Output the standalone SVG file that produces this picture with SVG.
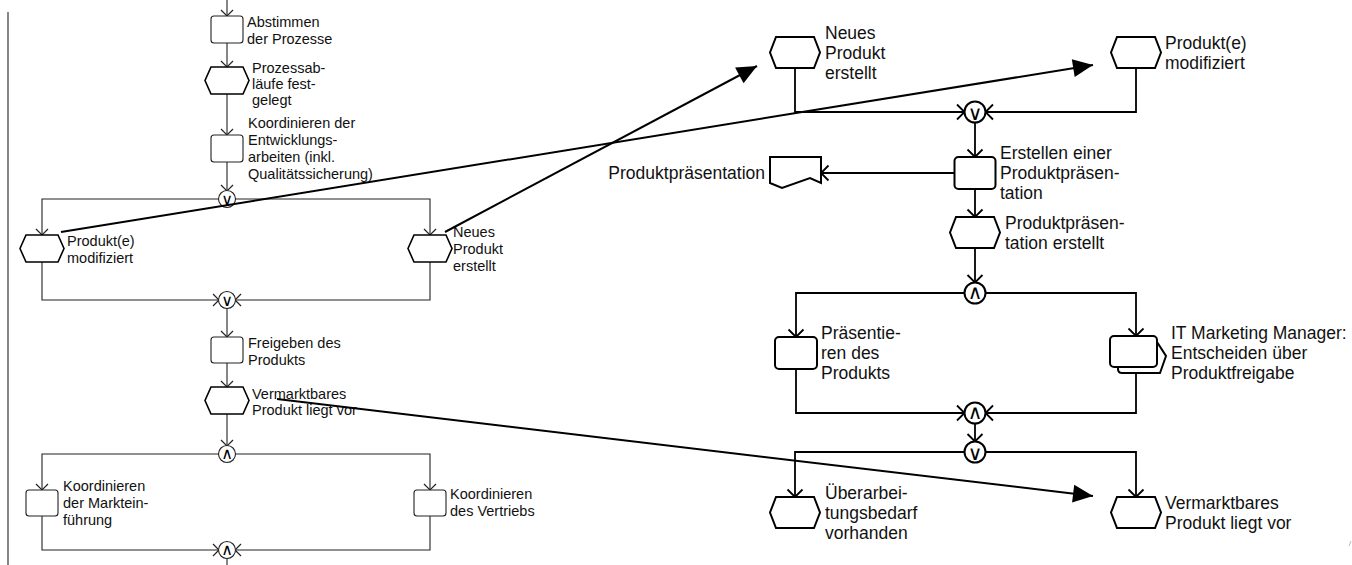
<svg xmlns="http://www.w3.org/2000/svg" width="1352" height="565" viewBox="0 0 1352 565">
<style>
.bg{fill:#fff}
.tl{font-family:"Liberation Sans",Arial,sans-serif;font-size:14.5px;fill:#111}
.tr{font-family:"Liberation Sans",Arial,sans-serif;font-size:17.5px;fill:#111}
.sym{font-family:"DejaVu Sans",sans-serif;fill:#000;text-anchor:middle;dominant-baseline:central}
.sl{font-size:16px}
.sr{font-size:20px}
.cl{fill:none;stroke:#222;stroke-width:1.1}
.cr{fill:none;stroke:#000;stroke-width:1.8}
.la{fill:none;stroke:#000;stroke-width:2}
.nl{fill:#fff;stroke:#222;stroke-width:1.1}
.hl{fill:#fff;stroke:#000;stroke-width:1.6}
.nr{fill:#fff;stroke:#000;stroke-width:2}
.ml{marker-end:url(#chevL)}
.mr{marker-end:url(#chevR)}
</style>
<defs>
<marker id="chevL" markerUnits="userSpaceOnUse" markerWidth="12" markerHeight="16" refX="8" refY="8" orient="auto" overflow="visible">
<path d="M2,2 L8,8 L2,14" fill="none" stroke="#222" stroke-width="1.2"/>
</marker>
<marker id="chevR" markerUnits="userSpaceOnUse" markerWidth="14" markerHeight="18" refX="9" refY="9" orient="auto" overflow="visible">
<path d="M1.5,1.5 L9,9 L1.5,16.5" fill="none" stroke="#000" stroke-width="1.8"/>
</marker>
<marker id="tri" markerUnits="userSpaceOnUse" markerWidth="21" markerHeight="18" refX="20" refY="9" orient="auto" overflow="visible">
<path d="M0,0 L20,9 L0,18 Z" fill="#000"/>
</marker>
</defs>
<rect class="bg" x="0" y="0" width="1352" height="565"/>

<g id="connectors">
<path class="cl" d="M8,12 V565"/>
<path class="cl ml" d="M227,0 V16"/>
<path class="cl ml" d="M227,43 V67"/>
<path class="cl ml" d="M227,94 V135"/>
<path class="cl ml" d="M227,162 V191"/>
<path class="cl ml" d="M219,199 H42 V235"/>
<path class="cl ml" d="M235,199 H430 V235"/>
<path class="cl ml" d="M42,262 V300 H219"/>
<path class="cl ml" d="M430,262 V300 H235"/>
<path class="cl ml" d="M227,308 V337"/>
<path class="cl ml" d="M227,363 V387"/>
<path class="cl ml" d="M227,414 V446"/>
<path class="cl ml" d="M219,454 H42 V490"/>
<path class="cl ml" d="M235,454 H430 V490"/>
<path class="cl ml" d="M42,516 V550 H219"/>
<path class="cl ml" d="M430,516 V550 H235"/>
<path class="cl" d="M227,558 V565"/>

<path class="cr mr" d="M795,68 V112 H964.5"/>
<path class="cr mr" d="M1136,68 V112 H985.5"/>
<path class="cr mr" d="M975,122.5 V157"/>
<path class="cr mr" d="M954.5,173 H821"/>
<path class="cr mr" d="M975,189 V217"/>
<path class="cr mr" d="M975,248 V282.5"/>
<path class="cr mr" d="M964.5,293 H796 V337"/>
<path class="cr mr" d="M985.5,293 H1136 V336"/>
<path class="cr mr" d="M796,369 V413 H964.5"/>
<path class="cr mr" d="M1136,373 V413 H985.5"/>
<path class="cr mr" d="M975,423.5 V441.5"/>
<path class="cr mr" d="M964.5,452 H795 V497"/>
<path class="cr mr" d="M985.5,452 H1136 V497"/>
<path d="M1349,546 L1351,541" stroke="#bbb" stroke-width="1" fill="none"/>
</g>

<g id="n-abstimmen">
<rect class="nl" x="211" y="16" width="32" height="27" rx="3"/>
<text class="tl" x="247" y="27">Abstimmen</text>
<text class="tl" x="247" y="44">der Prozesse</text>
</g>
<g id="n-prozessablaeufe">
<polygon class="hl" points="211,67 243,67 249,80.5 243,94 211,94 205,80.5"/>
<text class="tl" x="252" y="73">Prozessab-</text>
<text class="tl" x="252" y="89">läufe fest-</text>
<text class="tl" x="252" y="105">gelegt</text>
</g>
<g id="n-koordinieren-entw">
<rect class="nl" x="211" y="135" width="32" height="27" rx="3"/>
<text class="tl" x="248" y="128">Koordinieren der</text>
<text class="tl" x="248" y="145">Entwicklungs-</text>
<text class="tl" x="248" y="162">arbeiten (inkl.</text>
<text class="tl" x="248" y="179">Qualitätssicherung)</text>
</g>
<g id="op-or1">
<circle class="nl" cx="227" cy="199" r="8.5"/>
<text class="sym sl" x="227" y="199.5">∨</text>
</g>
<g id="n-modifiziert-l">
<polygon class="hl" points="26,235 58,235 64,248.5 58,262 26,262 20,248.5"/>
<text class="tl" x="67" y="246">Produkt(e)</text>
<text class="tl" x="67" y="263">modifiziert</text>
</g>
<g id="n-neues-l">
<polygon class="hl" points="414,235 446,235 452,248.5 446,262 414,262 408,248.5"/>
<text class="tl" x="453" y="237">Neues</text>
<text class="tl" x="453" y="254">Produkt</text>
<text class="tl" x="453" y="271">erstellt</text>
</g>
<g id="op-or2">
<circle class="nl" cx="227" cy="300" r="8.5"/>
<text class="sym sl" x="227" y="300.5">∨</text>
</g>
<g id="n-freigeben">
<rect class="nl" x="211" y="337" width="32" height="26" rx="3"/>
<text class="tl" x="248" y="348">Freigeben des</text>
<text class="tl" x="248" y="365">Produkts</text>
</g>
<g id="n-vermarktbar-l">
<polygon class="hl" points="211,387 243,387 249,400.5 243,414 211,414 205,400.5"/>
<text class="tl" x="252" y="399">Vermarktbares</text>
<text class="tl" x="252" y="415">Produkt liegt vor</text>
</g>
<g id="op-and1">
<circle class="nl" cx="227" cy="454" r="8.5"/>
<text class="sym sl" x="227" y="453">∧</text>
</g>
<g id="n-markteinfuehrung">
<rect class="nl" x="26" y="490" width="32" height="26" rx="3"/>
<text class="tl" x="63" y="491">Koordinieren</text>
<text class="tl" x="63" y="508">der Marktein-</text>
<text class="tl" x="63" y="525">führung</text>
</g>
<g id="n-vertrieb">
<rect class="nl" x="414" y="490" width="32" height="26" rx="3"/>
<text class="tl" x="450" y="499">Koordinieren</text>
<text class="tl" x="450" y="516">des Vertriebs</text>
</g>
<g id="op-and2">
<circle class="nl" cx="227" cy="550" r="8.5"/>
<text class="sym sl" x="227" y="549">∧</text>
</g>

<g id="n-neues-r">
<polygon class="nr" points="776,37 814,37 820,52.5 814,68 776,68 770,52.5"/>
<text class="tr" x="825" y="39">Neues</text>
<text class="tr" x="825" y="59">Produkt</text>
<text class="tr" x="825" y="79">erstellt</text>
</g>
<g id="n-modifiziert-r">
<polygon class="nr" points="1117,37 1155,37 1161,52.5 1155,68 1117,68 1111,52.5"/>
<text class="tr" x="1165" y="49">Produkt(e)</text>
<text class="tr" x="1165" y="69">modifiziert</text>
</g>
<g id="op-or3">
<circle class="nr" cx="975" cy="112" r="10.5"/>
<text class="sym sr" x="975" y="112.5">∨</text>
</g>
<g id="n-erstellen">
<rect class="nr" x="954.5" y="157" width="41" height="32" rx="4"/>
<text class="tr" x="1000" y="159">Erstellen einer</text>
<text class="tr" x="1000" y="179">Produktpräsen-</text>
<text class="tr" x="1000" y="199">tation</text>
</g>
<g id="n-dokument">
<path class="nr" d="M770,157 H821 V183 L810,178 L782,188 L770,183 Z"/>
<text class="tr" x="765" y="179" text-anchor="end">Produktpräsentation</text>
</g>
<g id="n-praes-erstellt">
<polygon class="nr" points="956,217 994,217 1000,232.5 994,248 956,248 950,232.5"/>
<text class="tr" x="1005" y="229">Produktpräsen-</text>
<text class="tr" x="1005" y="249">tation erstellt</text>
</g>
<g id="op-and3">
<circle class="nr" cx="975" cy="293" r="10.5"/>
<text class="sym sr" x="975" y="292">∧</text>
</g>
<g id="n-praesentieren">
<rect class="nr" x="775" y="337" width="42" height="32" rx="4"/>
<text class="tr" x="821" y="339">Präsentie-</text>
<text class="tr" x="821" y="359">ren des</text>
<text class="tr" x="821" y="379">Produkts</text>
</g>
<g id="n-entscheiden">
<path class="nr" d="M1120,342 H1157 L1166,356 L1160,373 H1122 Q1118,373 1118,369 Z"/>
<rect class="nr" x="1110" y="336" width="47" height="31" rx="4"/>
<text class="tr" x="1171" y="339">IT Marketing Manager:</text>
<text class="tr" x="1171" y="359">Entscheiden über</text>
<text class="tr" x="1171" y="379">Produktfreigabe</text>
</g>
<g id="op-and4">
<circle class="nr" cx="975" cy="413" r="10.5"/>
<text class="sym sr" x="975" y="412">∧</text>
</g>
<g id="op-or4">
<circle class="nr" cx="975" cy="452" r="10.5"/>
<text class="sym sr" x="975" y="452.5">∨</text>
</g>
<g id="n-ueberarbeitung">
<polygon class="nr" points="776,497 814,497 820,512.5 814,528 776,528 770,512.5"/>
<text class="tr" x="825" y="499">Überarbei-</text>
<text class="tr" x="825" y="519">tungsbedarf</text>
<text class="tr" x="825" y="539">vorhanden</text>
</g>
<g id="n-vermarktbar-r">
<polygon class="nr" points="1117,497 1155,497 1161,512.5 1155,528 1117,528 1111,512.5"/>
<text class="tr" x="1165" y="509">Vermarktbares</text>
<text class="tr" x="1165" y="529">Produkt liegt vor</text>
</g>

<g id="long-arrows">
<path class="la" d="M61,232 L1093,65" marker-end="url(#tri)"/>
<path class="la" d="M445,232 L757,66" marker-end="url(#tri)"/>
<path class="la" d="M277,399 L1093,496" marker-end="url(#tri)"/>
</g>
</svg>
